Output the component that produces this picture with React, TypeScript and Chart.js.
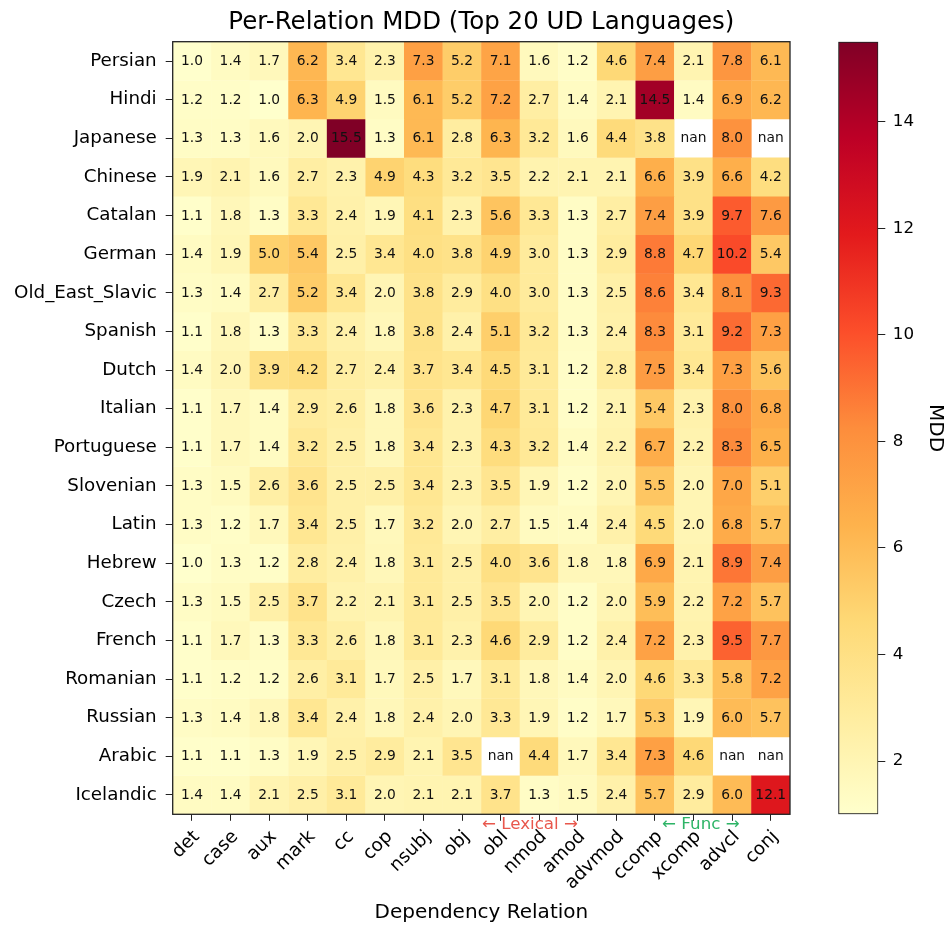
import React, { useEffect, useRef } from "react";
import { Chart, registerables } from "chart.js";

Chart.register(...registerables);

// ---------- data ----------
const relations = ["det", "case", "aux", "mark", "cc", "cop", "nsubj", "obj", "obl", "nmod", "amod", "advmod", "ccomp", "xcomp", "advcl", "conj"];
const languages = ["Persian", "Hindi", "Japanese", "Chinese", "Catalan", "German", "Old_East_Slavic", "Spanish", "Dutch", "Italian", "Portuguese", "Slovenian", "Latin", "Hebrew", "Czech", "French", "Romanian", "Russian", "Arabic", "Icelandic"];

const persian = [1.0, 1.4, 1.7, 6.2, 3.4, 2.3, 7.3, 5.2, 7.1, 1.6, 1.2, 4.6, 7.4, 2.1, 7.8, 6.1];
const hindi = [1.2, 1.2, 1.0, 6.3, 4.9, 1.5, 6.1, 5.2, 7.2, 2.7, 1.4, 2.1, 14.5, 1.4, 6.9, 6.2];
const japanese = [1.3, 1.3, 1.6, 2.0, 15.5, 1.3, 6.1, 2.8, 6.3, 3.2, 1.6, 4.4, 3.8, null, 8.0, null];
const chinese = [1.9, 2.1, 1.6, 2.7, 2.3, 4.9, 4.3, 3.2, 3.5, 2.2, 2.1, 2.1, 6.6, 3.9, 6.6, 4.2];
const catalan = [1.1, 1.8, 1.3, 3.3, 2.4, 1.9, 4.1, 2.3, 5.6, 3.3, 1.3, 2.7, 7.4, 3.9, 9.7, 7.6];
const german = [1.4, 1.9, 5.0, 5.4, 2.5, 3.4, 4.0, 3.8, 4.9, 3.0, 1.3, 2.9, 8.8, 4.7, 10.2, 5.4];
const oldEastSlavic = [1.3, 1.4, 2.7, 5.2, 3.4, 2.0, 3.8, 2.9, 4.0, 3.0, 1.3, 2.5, 8.6, 3.4, 8.1, 9.3];
const spanish = [1.1, 1.8, 1.3, 3.3, 2.4, 1.8, 3.8, 2.4, 5.1, 3.2, 1.3, 2.4, 8.3, 3.1, 9.2, 7.3];
const dutch = [1.4, 2.0, 3.9, 4.2, 2.7, 2.4, 3.7, 3.4, 4.5, 3.1, 1.2, 2.8, 7.5, 3.4, 7.3, 5.6];
const italian = [1.1, 1.7, 1.4, 2.9, 2.6, 1.8, 3.6, 2.3, 4.7, 3.1, 1.2, 2.1, 5.4, 2.3, 8.0, 6.8];
const portuguese = [1.1, 1.7, 1.4, 3.2, 2.5, 1.8, 3.4, 2.3, 4.3, 3.2, 1.4, 2.2, 6.7, 2.2, 8.3, 6.5];
const slovenian = [1.3, 1.5, 2.6, 3.6, 2.5, 2.5, 3.4, 2.3, 3.5, 1.9, 1.2, 2.0, 5.5, 2.0, 7.0, 5.1];
const latin = [1.3, 1.2, 1.7, 3.4, 2.5, 1.7, 3.2, 2.0, 2.7, 1.5, 1.4, 2.4, 4.5, 2.0, 6.8, 5.7];
const hebrew = [1.0, 1.3, 1.2, 2.8, 2.4, 1.8, 3.1, 2.5, 4.0, 3.6, 1.8, 1.8, 6.9, 2.1, 8.9, 7.4];
const czech = [1.3, 1.5, 2.5, 3.7, 2.2, 2.1, 3.1, 2.5, 3.5, 2.0, 1.2, 2.0, 5.9, 2.2, 7.2, 5.7];
const french = [1.1, 1.7, 1.3, 3.3, 2.6, 1.8, 3.1, 2.3, 4.6, 2.9, 1.2, 2.4, 7.2, 2.3, 9.5, 7.7];
const romanian = [1.1, 1.2, 1.2, 2.6, 3.1, 1.7, 2.5, 1.7, 3.1, 1.8, 1.4, 2.0, 4.6, 3.3, 5.8, 7.2];
const russian = [1.3, 1.4, 1.8, 3.4, 2.4, 1.8, 2.4, 2.0, 3.3, 1.9, 1.2, 1.7, 5.3, 1.9, 6.0, 5.7];
const arabic = [1.1, 1.1, 1.3, 1.9, 2.5, 2.9, 2.1, 3.5, null, 4.4, 1.7, 3.4, 7.3, 4.6, null, null];
const icelandic = [1.4, 1.4, 2.1, 2.5, 3.1, 2.0, 2.1, 2.1, 3.7, 1.3, 1.5, 2.4, 5.7, 2.9, 6.0, 12.1];

const mddRows = [persian, hindi, japanese, chinese, catalan, german, oldEastSlavic, spanish, dutch, italian, portuguese, slovenian, latin, hebrew, czech, french, romanian, russian, arabic, icelandic];

const colorbarTicks = [2, 4, 6, 8, 10, 12, 14];
const vMin = 1.0;
const vMax = 15.5;

// ---------- styling ----------
const FONT = "'DejaVu Sans', 'Noto Sans', sans-serif";
const ylOrRd = ["#ffffcc", "#ffeda0", "#fed976", "#feb24c", "#fd8d3c", "#fc4e2a", "#e31a1c", "#bd0026", "#800026"];

function hexToRgb(h: string) {
  const n = parseInt(h.slice(1), 16);
  return [(n >> 16) & 255, (n >> 8) & 255, n & 255];
}
const stopsRgb = ylOrRd.map(hexToRgb);

function cmap(t: number) {
  const tt = Math.max(0, Math.min(1, t));
  const n = stopsRgb.length - 1;
  let i = Math.floor(tt * n);
  if (i >= n) i = n - 1;
  const f = tt * n - i;
  const a = stopsRgb[i];
  const b = stopsRgb[i + 1];
  const c = a.map((v, k) => Math.round(v + (b[k] - v) * f));
  return `rgb(${c[0]},${c[1]},${c[2]})`;
}

Chart.defaults.font.family = FONT;
Chart.defaults.color = "#000";

const W = 945;
const H = 927;
const MAIN_W = 830;
const PLOT_LEFT = 172.7;
const PLOT_RIGHT = 790;
const PLOT_TOP = 41.7;
const PLOT_BOTTOM = 814.3;
const TITLE_SIZE = 24.5;

const cellTextPlugin = {
  id: "cellText",
  afterDatasetsDraw(chart: any) {
    const { ctx, scales } = chart;
    ctx.save();
    ctx.font = `13.8px ${FONT}`;
    ctx.fillStyle = "#111";
    ctx.textAlign = "center";
    ctx.textBaseline = "middle";
    mddRows.forEach((row, r) => {
      row.forEach((v, c) => {
        const x = scales.x.getPixelForValue(c);
        const y = scales.y.getPixelForValue(r);
        ctx.fillText(v === null ? "nan" : v.toFixed(1), x, y + 0.5);
      });
    });
    ctx.restore();
  },
  afterDraw(chart: any) {
    const { ctx, chartArea, scales } = chart;
    ctx.save();
    ctx.strokeStyle = "#222";
    ctx.lineWidth = 1.3;
    ctx.strokeRect(chartArea.left, chartArea.top, chartArea.right - chartArea.left, chartArea.bottom - chartArea.top);
    ctx.font = `16.7px ${FONT}`;
    ctx.textAlign = "center";
    ctx.textBaseline = "middle";
    ctx.fillStyle = "#e8574c";
    ctx.fillText("← Lexical →", scales.x.getPixelForValue(8.76), chartArea.bottom + 10);
    ctx.fillStyle = "#2db466";
    ctx.fillText("← Func →", scales.x.getPixelForValue(13.19), chartArea.bottom + 10);
    ctx.restore();
  },
};

export default function App() {
  const mainRef = useRef<HTMLCanvasElement | null>(null);
  const cbRef = useRef<HTMLCanvasElement | null>(null);

  useEffect(() => {
    if (!mainRef.current || !cbRef.current) return;

    const datasets = languages.map((lang, r) => ({
      label: lang,
      data: mddRows[r].map((v) => (v === null ? null : [r - 0.505, r + 0.505])),
      backgroundColor: mddRows[r].map((v) => (v === null ? "rgba(255,255,255,0)" : cmap((v - vMin) / (vMax - vMin)))),
      borderWidth: 0,
      barPercentage: 1.01,
      categoryPercentage: 1,
      grouped: false,
    }));

    const main = new Chart(mainRef.current, {
      type: "bar",
      data: { labels: relations, datasets: datasets as any },
      plugins: [cellTextPlugin],
      options: {
        animation: false,
        responsive: false,
        maintainAspectRatio: false,
        layout: { padding: { left: 0, right: MAIN_W - PLOT_RIGHT, top: 0, bottom: 0 } },
        plugins: {
          legend: { display: false },
          tooltip: { enabled: false },
          title: {
            display: true,
            fullSize: false,
            text: "Per-Relation MDD (Top 20 UD Languages)",
            color: "#000",
            font: { family: FONT, size: TITLE_SIZE, weight: "normal", lineHeight: 1.2 },
            padding: { top: 8, bottom: PLOT_TOP - 8 - TITLE_SIZE * 1.2 },
          },
        },
        scales: {
          x: {
            type: "category",
            offset: true,
            grid: { display: true, offset: false, drawOnChartArea: false, drawTicks: true, tickLength: 6.5, color: "#222", lineWidth: 1 },
            border: { display: false },
            ticks: {
              autoSkip: false,
              minRotation: 45,
              maxRotation: 45,
              padding: 8.5,
              color: "#000",
              font: { family: FONT, size: 18.3, lineHeight: 0.72 },
              showLabelBackdrop: true,
              backdropColor: "rgba(0,0,0,0)",
              backdropPadding: 0,
            },
            title: {
              display: true,
              text: "Dependency Relation",
              color: "#000",
              font: { family: FONT, size: 20, lineHeight: 1.2 },
              padding: { top: 0, bottom: 2 },
            },
            afterFit: (s: any) => {
              s.height = H - PLOT_BOTTOM;
            },
          },
          y: {
            type: "linear",
            min: -0.5,
            max: 19.5,
            reverse: true,
            afterBuildTicks: (s: any) => {
              s.ticks = languages.map((_, i) => ({ value: i }));
            },
            grid: { display: true, drawOnChartArea: false, drawTicks: true, tickLength: 7, color: "#222", lineWidth: 1 },
            border: { display: false },
            ticks: {
              padding: 9,
              color: "#000",
              font: { family: FONT, size: 18.3 },
              callback: (v: any) => languages[v as number] ?? "",
            },
            afterFit: (s: any) => {
              s.width = PLOT_LEFT;
            },
          },
        },
      } as any,
    });

    const cbCanvasLeft = MAIN_W;
    const cbLeft = 838.3 - cbCanvasLeft;
    const cbRight = 878.3 - cbCanvasLeft;
    const cbW = W - MAIN_W;

    const colorbar = new Chart(cbRef.current, {
      type: "bar",
      data: {
        labels: [""],
        datasets: [
          {
            data: [[vMin, vMax]] as any,
            backgroundColor: (ctx: any) => {
              const chart = ctx.chart;
              const { chartArea, scales } = chart;
              if (!chartArea || !scales.y) return "#fff";
              const g = chart.ctx.createLinearGradient(0, scales.y.getPixelForValue(vMin), 0, scales.y.getPixelForValue(vMax));
              ylOrRd.forEach((c, i) => g.addColorStop(i / (ylOrRd.length - 1), c));
              return g;
            },
            borderColor: "#222",
            borderWidth: 1.3,
            borderSkipped: false,
            barPercentage: 1,
            categoryPercentage: 1,
          } as any,
        ],
      },
      options: {
        animation: false,
        responsive: false,
        maintainAspectRatio: false,
        layout: { padding: { left: cbLeft, right: 0, top: PLOT_TOP, bottom: H - PLOT_BOTTOM } },
        plugins: { legend: { display: false }, tooltip: { enabled: false }, title: { display: false } },
        scales: {
          x: { display: false },
          y: {
            position: "right",
            min: vMin,
            max: vMax,
            afterBuildTicks: (s: any) => {
              s.ticks = colorbarTicks.map((v) => ({ value: v }));
            },
            grid: { display: true, drawOnChartArea: false, drawTicks: true, tickLength: 7, color: "#222", lineWidth: 1 },
            border: { display: false },
            ticks: { padding: 7.5, color: "#000", font: { family: FONT, size: 16.7 } },
            title: {
              display: true,
              text: "MDD",
              color: "#000",
              font: { family: FONT, size: 20, lineHeight: 1 },
              padding: { top: 0, bottom: 0 },
            },
            afterFit: (s: any) => {
              s.width = cbW - cbRight;
            },
          },
        },
      } as any,
    });

    return () => {
      main.destroy();
      colorbar.destroy();
    };
  }, []);

  return (
    <div style={{ position: "absolute", left: 0, top: 0, width: W, height: H, background: "#fff" }}>
      <canvas ref={mainRef} width={MAIN_W} height={H} style={{ position: "absolute", left: 0, top: 0, width: MAIN_W, height: H }} />
      <canvas ref={cbRef} width={W - MAIN_W} height={H} style={{ position: "absolute", left: MAIN_W, top: 0, width: W - MAIN_W, height: H }} />
    </div>
  );
}
